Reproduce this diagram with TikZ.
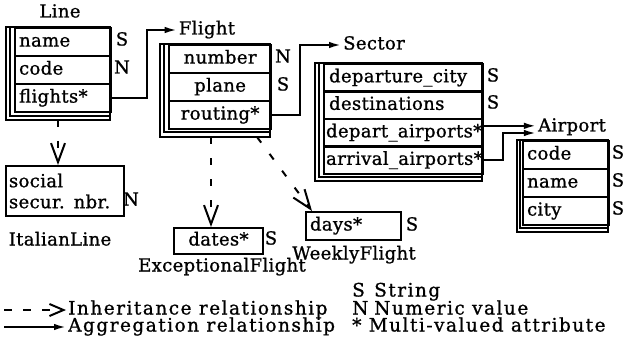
\documentclass[tikz,border=0pt]{standalone}
\usepackage{fontspec}
\setmainfont{DejaVu Serif}[LetterSpace=2, FakeBold=1]
\usetikzlibrary{arrows.meta}
\tikzset{
  base/.style={font=\fontsize{18}{20}\selectfont, inner sep=2pt},
  txt/.style={base, text height=12.5pt, text depth=3.5pt},
  ctitle/.style={txt},
  lab/.style={txt},
  leg/.style={txt, anchor=west, font=\fontsize{18.5}{20}\selectfont\addfontfeature{LetterSpace=8}},
  cframe/.style={line width=1.5pt},
  attr/.style={txt, draw, line width=2.2pt, anchor=north west, inner xsep=4pt, inner ysep=0pt},
  lrow/.style={attr, text width=#1, align=left},
  crow/.style={attr, text width=#1, align=center},
  agg/.style={line width=2pt, -{Latex[length=12pt,width=6.5pt]}},
  inh/.style={line width=2pt, dash pattern=on 7pt off 14pt, -{Straight Barb[length=19pt,width=14pt,line width=2pt]}},
  leginh/.style={line width=2pt, dash pattern=on 8pt off 11pt, -{Straight Barb[length=14pt,width=12pt,line width=2pt]}}
}
\begin{document}
\begin{tikzpicture}[x=1pt,y=-1pt]
\useasboundingbox (0,0) rectangle (629,350);

% ---------- Line
\node[ctitle] (tline) at (60,13) {Line};
\draw[cframe] (6,27) rectangle (110,120);
\draw[cframe] (10,27) -- (10,116) -- (110,116);
\node[lrow=88pt, minimum height=28pt] (lname) at (14,27) {name};
\node[lrow=88pt, minimum height=28pt] (lcode) at (14,55) {code};
\node[lrow=88pt, minimum height=28pt] (lflights) at (14,83) {\mbox{flights*}};
\node[lab] (lnameS) at (122,41) {S};
\node[lab] (lcodeN) at (122,69) {N};

% ---------- Flight
\node[ctitle] (tflight) at (207,30) {Flight};
\draw[cframe] (160,44) rectangle (270,137);
\draw[cframe] (164,44) -- (164,132) -- (270,132);
\node[crow=94pt, minimum height=28pt] (fnumber) at (168,44) {number};
\node[crow=94pt, minimum height=28pt] (fplane) at (168,72) {plane};
\node[crow=94pt, minimum height=28pt] (frouting) at (168,100) {\mbox{routing*}};
\node[lab] (fnumberN) at (283,58) {N};
\node[lab] (fplaneS) at (283,86) {S};

% ---------- Sector
\node[ctitle] (tsector) at (374,45) {Sector};
\draw[cframe] (315,63) rectangle (482,181);
\draw[cframe] (319,63) -- (319,177) -- (482,177);
\node[lrow=155pt, minimum height=27.5pt, inner xsep=2pt] (scity) at (323,63) {\mbox{\,departure\_city}};
\node[lrow=155pt, minimum height=27.5pt, inner xsep=2pt] (sdest) at (323,90.5) {\mbox{\,destinations}};
\node[lrow=155pt, minimum height=27.5pt, inner xsep=2pt] (sdepart) at (323,118) {\mbox{depart\_airports*}};
\node[lrow=155pt, minimum height=27.5pt, inner xsep=2pt] (sarrival) at (323,145.5) {\mbox{arrival\_airports*}};
\node[lab] (scityS) at (493,77) {S};
\node[lab] (sdestS) at (493,104) {S};

% ---------- Airport
\node[ctitle] (tairport) at (572,127) {Airport};
\draw[cframe] (517,140) rectangle (608,232);
\draw[cframe] (520,140) -- (520,228) -- (608,228);
\node[lrow=78pt, minimum height=28pt] (acode) at (522,140) {code};
\node[lrow=78pt, minimum height=28pt] (aname) at (522,168) {name};
\node[lrow=78pt, minimum height=28pt] (acity) at (522,196) {city};
\node[lab] (acodeS) at (618,154) {S};
\node[lab] (anameS) at (618,182) {S};
\node[lab] (acityS) at (618,210) {S};

% ---------- ItalianLine
\node[base, font=\fontsize{18}{21}\selectfont, draw, line width=2pt, anchor=north west,
      minimum width=118pt, minimum height=50pt, text width=112pt, align=left,
      inner xsep=3pt] (ssn) at (5,165) {social\\\mbox{secur. nbr.}};
\node[lab] (ssnN) at (131,201) {N};
\node[ctitle] (titalian) at (60,241) {ItalianLine};

% ---------- ExceptionalFlight
\node[crow=81pt, minimum height=26pt, line width=2pt] (dates) at (173,227) {\mbox{dates*}};
\node[lab] (datesS) at (271,240) {S};
\node[ctitle] (texcept) at (222,267) {ExceptionalFlight};

% ---------- WeeklyFlight
\node[lrow=87pt, minimum height=28pt, line width=2pt] (days) at (305,211) {\mbox{days*}};
\node[lab] (daysS) at (412,226) {S};
\node[ctitle] (tweekly) at (354,255) {WeeklyFlight};

% ---------- aggregation connectors
\draw[agg] (lflights.east) -- ++(35,0) |- (tflight.west);
\draw[agg] (frouting.east) -- ++(28,0) |- (tsector.west);
\draw[agg] ([yshift=7pt]sdepart.east) -- ([yshift=7pt]sdepart.east -| tairport.west);
\draw[agg] (sarrival.east) -- ++(19,0) |- ([yshift=-6pt]tairport.west);

% ---------- inheritance connectors
\coordinate (lb) at (58,120);
\draw[inh] (lb) -- (lb |- ssn.north);
\coordinate (fb1) at (211,137);
\draw[inh] (fb1) -- (fb1 |- dates.north);
\coordinate (fb2) at (257,137);
\draw[inh] (fb2) -- ([xshift=7pt]days.north west);

% ---------- legend
\node[leg] (linh) at (66,310) {Inheritance relationship};
\coordinate (linhs) at (4,310);
\draw[leginh] (linhs) -- (linh.west);
\node[leg] (lagg) at (66,327) {Aggregation relationship};
\coordinate (laggs) at (4,327);
\draw[agg] (laggs) -- (lagg.west);
\node[leg] (lgS) at (350,292) {S};
\node[leg] (lgString) at (372,292) {String};
\node[leg] (lgN) at (350,310) {N};
\node[leg] (lgNum) at (372,310) {Numeric value};
\node[leg] (lgMulti) at (350,327) {* Multi-valued attribute};
\end{tikzpicture}
\end{document}
